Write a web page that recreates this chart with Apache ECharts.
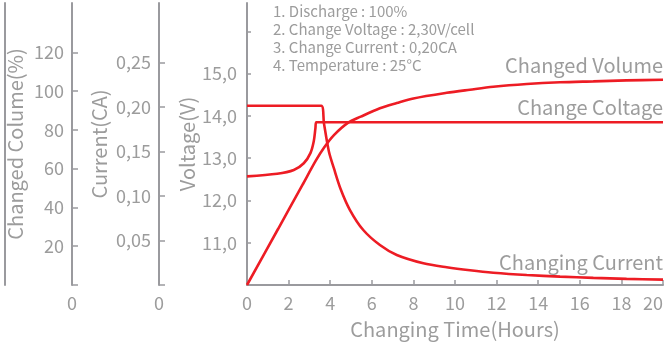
<!DOCTYPE html>
<html><head><meta charset="utf-8">
<script src="https://cdn.jsdelivr.net/npm/echarts@6/dist/echarts.min.js"></script>
<style>html,body{margin:0;padding:0;background:#fff}#c{width:665px;height:346px}</style>
</head><body><div id="c"></div>
<script>
// ---- data ----
const volumeTime   = [0, 1.5, 2.66, 3.3, 3.7, 4.18, 4.85, 5.47, 6.39, 7.2, 8.0, 9.6, 10.72, 11.84, 13.45, 15.05, 16.65, 18.25, 20];
const volumeValues = [0, 29, 51.5, 64, 70.8, 77.3, 83.6, 86.8, 91.1, 93.8, 96.2, 99.1, 100.7, 102.2, 103.6, 104.5, 105.0, 105.5, 105.8];

const voltageTime   = [0, 1.45, 2.25, 2.73, 3.05, 3.21, 3.29, 3.33, 20];
const voltageValues = [12.57, 12.63, 12.72, 12.88, 13.12, 13.40, 13.71, 13.85, 13.85];

const currentTime   = [0, 3.57, 3.70, 3.94, 4.18, 4.5, 4.95, 5.59, 6.39, 7.2, 8.48, 9.6, 10.72, 11.84, 13.45, 15.05, 16.65, 18.25, 20];
const currentValues = [0.2015, 0.2015, 0.1817, 0.1497, 0.131, 0.108, 0.0843, 0.0618, 0.0449, 0.0337, 0.0244, 0.0199, 0.0165, 0.0138, 0.0112, 0.0094, 0.008, 0.0069, 0.006];

const seriesNames = ['Changed Volume', 'Change Coltage', 'Changing Current'];
const percentTicks = [0, 20, 40, 60, 80, 100, 120];
const percentLabels = [20, 40, 60, 80, 100, 120];
const currentTicks = [0, 0.05, 0.10, 0.15, 0.20, 0.25];
const currentLabels = [0.05, 0.10, 0.15, 0.20, 0.25];
const voltageTicks = [11, 12, 13, 14, 15, 16];
const voltageLabels = [11, 12, 13, 14, 15];
const notes = ['1. Discharge : 100%', '2. Change Voltage : 2,30V/cell', '3. Change Current : 0,20CA', '4. Temperature : 25°C'];
const axisNames = ['Voltage(V)', 'Current(CA)', 'Changed Colume(%)', 'Changing Time(Hours)'];

// ---- styling ----
const RED = '#ed1c24';
const LINE = '#9a9a9e';
const TXT = '#9c9c9c';
const FONT = '"Noto Sans CJK KR", "Noto Sans", sans-serif';

const chart = echarts.init(document.getElementById('c'), null, {renderer: 'canvas'});
const pairs = (xs, ys) => xs.map((t, i) => [t, ys[i]]);
const comma = (v, d) => v.toFixed(d).replace('.', ',');

function yAx(opt) {
  return Object.assign({
    type: 'value', position: 'left',
    splitLine: {show: false},
    axisLine: {show: true, lineStyle: {color: LINE, width: 2}},
    axisTick: {show: true, inside: true, length: 5, lineStyle: {color: LINE, width: 1.5}},
    axisLabel: {color: TXT, fontSize: 18, fontFamily: FONT},
    nameLocation: 'middle', nameRotate: 90, nameMoveOverlap: false,
    nameTextStyle: {color: TXT, fontSize: 20, fontFamily: FONT}
  }, opt);
}

function endMark(name, value, dist) {
  return {
    symbol: 'circle', symbolSize: 0, silent: true,
    data: [{coord: [20, value]}],
    label: {show: true, formatter: name, position: 'top', align: 'right', distance: dist,
      color: TXT, fontSize: 20, fontFamily: FONT}
  };
}

const option = {
  animation: false,
  backgroundColor: '#fff',
  grid: {left: 247, right: 2, top: 3, bottom: 61, containLabel: false, outerBoundsMode: 'none'},
  xAxis: {
    type: 'value', min: 0, max: 20, interval: 2,
    splitLine: {show: false},
    axisLine: {show: true, lineStyle: {color: LINE, width: 2}},
    axisTick: {show: true, inside: true, length: 5, lineStyle: {color: LINE, width: 1.5}},
    axisLabel: {color: TXT, fontSize: 18, fontFamily: FONT, margin: 9, alignMaxLabel: 'right'},
    name: axisNames[3], nameLocation: 'middle', nameGap: 34, nameMoveOverlap: false,
    nameTextStyle: {color: TXT, fontSize: 20, fontFamily: FONT}
  },
  yAxis: [
    yAx({min: 10, max: 16.67, offset: 0, name: axisNames[0], nameGap: 50,
      axisTick: {show: true, inside: true, length: 4, customValues: voltageTicks, lineStyle: {color: LINE, width: 1.5}},
      axisLabel: {color: TXT, fontSize: 18, fontFamily: FONT, margin: 10, customValues: voltageLabels, formatter: v => comma(v, 1)}}),
    yAx({min: 0, max: 0.317, offset: 88, name: axisNames[1], nameGap: 50,
      axisTick: {show: true, inside: true, length: 6, customValues: currentTicks, lineStyle: {color: LINE, width: 1.5}},
      axisLabel: {color: TXT, fontSize: 18, fontFamily: FONT, margin: 8, customValues: currentLabels, formatter: v => comma(v, 2)}}),
    yAx({min: 0, max: 145.4, offset: 175, name: axisNames[2], nameGap: 47,
      axisTick: {show: true, inside: true, length: 6, customValues: percentTicks, lineStyle: {color: LINE, width: 1.5}},
      axisLabel: {color: TXT, fontSize: 18, fontFamily: FONT, margin: 8, customValues: percentLabels, formatter: v => String(v)}}),
    yAx({min: 0, max: 145.4, offset: 242,
      axisTick: {show: false}, axisLabel: {show: false}})
  ],
  graphic: [
    {type: 'text', left: 273, top: 2, style: {text: notes.join('\n'), fill: TXT, font: '15px ' + FONT, lineHeight: 18}},
    {type: 'text', x: 72, y: 303, style: {text: '0', fill: TXT, font: '18px ' + FONT, align: 'center', verticalAlign: 'middle'}},
    {type: 'text', x: 159, y: 303, style: {text: '0', fill: TXT, font: '18px ' + FONT, align: 'center', verticalAlign: 'middle'}}
  ],
  series: [
    {type: 'line', name: seriesNames[0], yAxisIndex: 2, data: pairs(volumeTime, volumeValues),
      smooth: 0.3, symbol: 'none', lineStyle: {color: RED, width: 2.6}, itemStyle: {color: RED},
      markPoint: endMark(seriesNames[0], volumeValues[volumeValues.length - 1], 4)},
    {type: 'line', name: seriesNames[1], yAxisIndex: 0, data: pairs(voltageTime, voltageValues),
      smooth: 0.3, symbol: 'none', lineStyle: {color: RED, width: 2.6}, itemStyle: {color: RED},
      markPoint: endMark(seriesNames[1], voltageValues[voltageValues.length - 1], 5)},
    {type: 'line', name: seriesNames[2], yAxisIndex: 1, data: pairs(currentTime, currentValues),
      smooth: 0.3, symbol: 'none', lineStyle: {color: RED, width: 2.6}, itemStyle: {color: RED},
      markPoint: endMark(seriesNames[2], currentValues[currentValues.length - 1], 7)}
  ]
};
chart.setOption(option);
</script>
</body></html>
